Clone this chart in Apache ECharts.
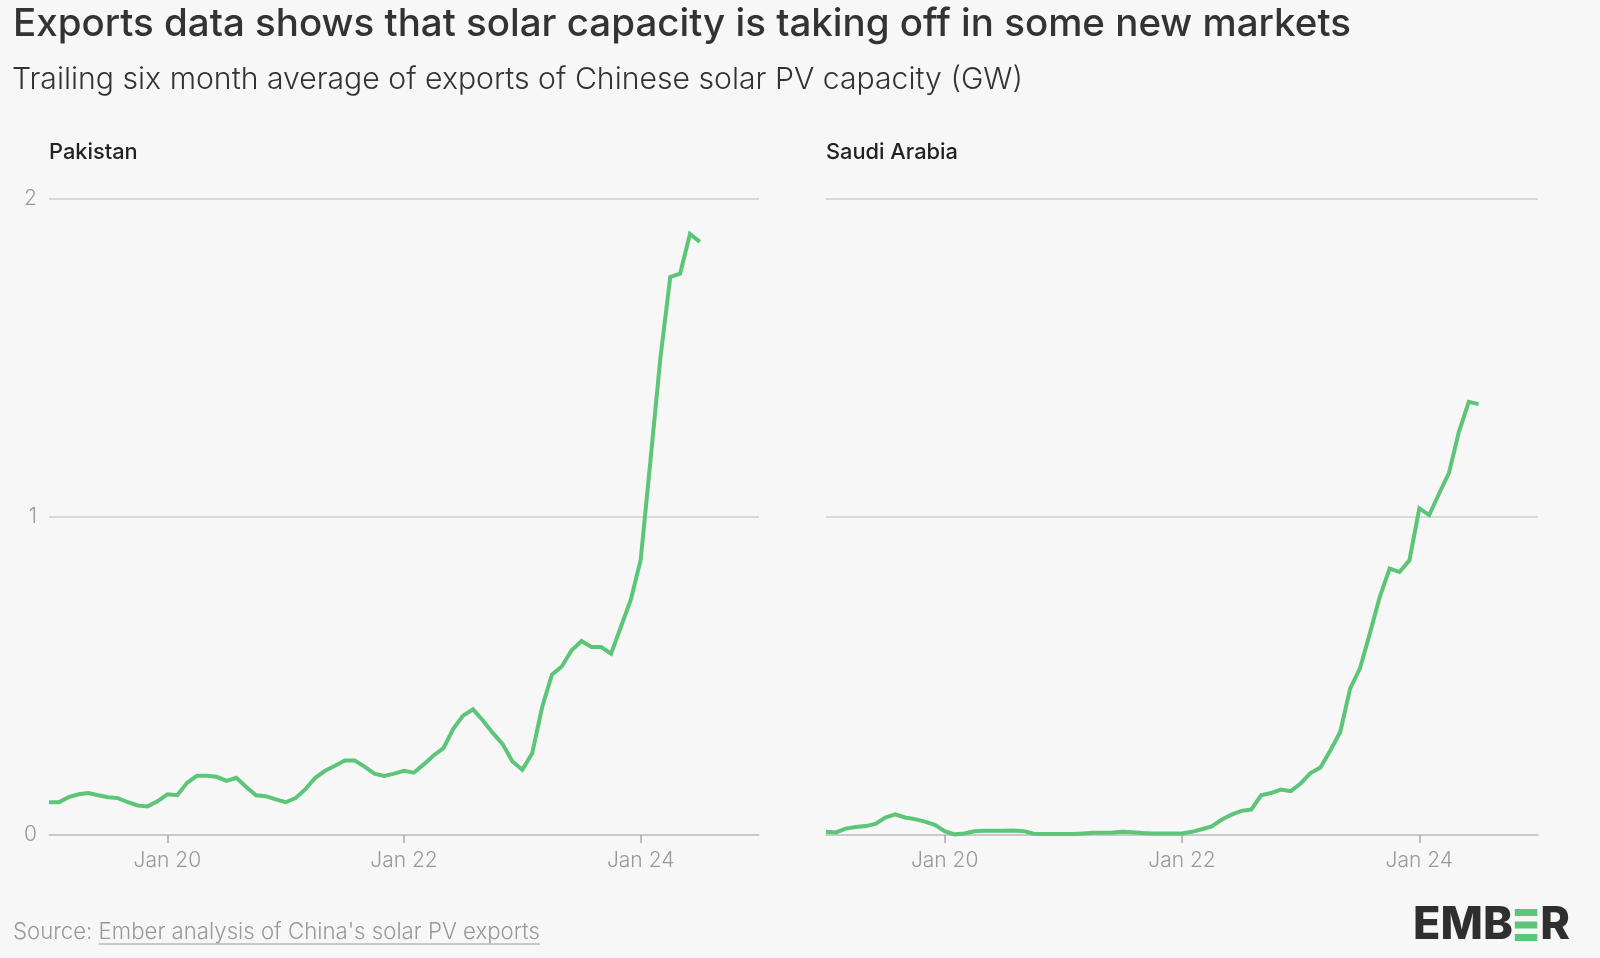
<!DOCTYPE html>
<html><head><meta charset="utf-8">
<script src="https://cdn.jsdelivr.net/npm/echarts@6/dist/echarts.min.js"></script>
<style>html,body{margin:0;padding:0;background:#f7f7f7}#c{width:1600px;height:958px}</style>
</head><body><div id="c"></div>
<script>
// Month categories Jan 2019 .. Jan 2025
const monthNames = ['Jan','Feb','Mar','Apr','May','Jun','Jul','Aug','Sep','Oct','Nov','Dec'];
const years = [19,20,21,22,23,24];
const months = [];
years.forEach(y => monthNames.forEach(m => months.push(m + ' ' + y)));
months.push('Jan 25');
const tickLabels = ['Jan 20','Jan 22','Jan 24'];
const yTicks = {min: 0, max: 2, step: 1};
const panelNames = ['Pakistan','Saudi Arabia'];

// Trailing six-month average exports (GW), Jan 2019 .. Jul 2024
const pakistan = [
  0.103,0.103,0.119,0.128,0.132,0.125,0.119,0.116,0.103,0.093,0.090,0.106,
  0.128,0.125,0.164,0.186,0.186,0.183,0.170,0.180,0.151,0.125,0.122,0.112,
  0.103,0.116,0.144,0.180,0.202,0.218,0.234,0.234,0.215,0.193,0.186,0.193,
  0.202,0.196,0.222,0.250,0.273,0.334,0.376,0.395,0.360,0.321,0.286,0.231,
  0.205,0.257,0.401,0.504,0.530,0.581,0.610,0.591,0.591,0.570,0.655,0.740,
  0.865,1.180,1.500,1.755,1.765,1.890,1.865
];
const saudi = [
  0.010,0.008,0.020,0.025,0.028,0.035,0.055,0.065,0.055,0.050,0.042,0.032,
  0.012,0.002,0.005,0.012,0.013,0.013,0.013,0.014,0.012,0.004,0.003,0.003,
  0.003,0.003,0.005,0.007,0.007,0.008,0.010,0.009,0.006,0.005,0.005,0.005,
  0.005,0.010,0.018,0.027,0.048,0.064,0.076,0.080,0.125,0.132,0.143,0.138,
  0.162,0.195,0.212,0.266,0.324,0.460,0.524,0.634,0.749,0.838,0.827,0.864,
  1.027,1.006,1.074,1.139,1.268,1.362,1.355
];

const FONT = 'Inter';
const GREEN = '#5cc577';
const chart = echarts.init(document.getElementById('c'), null, {renderer:'canvas'});

const ctx = document.createElement('canvas').getContext('2d');
function tw(text, font){ ctx.font = font; return ctx.measureText(text).width; }

const gridTop = 199, gridH = 636;
const grids = [
  {left: 49, top: gridTop, width: 710, height: gridH},
  {left: 826, top: gridTop, width: 712, height: gridH}
];
const isTick = (i, v) => tickLabels.indexOf(v) >= 0;

const xAxes = grids.map((g, k) => ({
  type: 'category', gridIndex: k, data: months, boundaryGap: false,
  axisLine: {show: true, lineStyle: {color: '#c4c4c4', width: 1.5}},
  axisTick: {show: true, interval: isTick, length: 8, lineStyle: {color: '#aaaaaa', width: 1.5}},
  axisLabel: {interval: isTick, color: '#999999', fontSize: 21, fontWeight: 300, fontFamily: FONT, margin: 15},
  splitLine: {show: false}
}));
const yAxes = grids.map((g, k) => ({
  type: 'value', gridIndex: k, min: yTicks.min, max: yTicks.max, interval: yTicks.step,
  axisLine: {show: false}, axisTick: {show: false},
  axisLabel: {show: k === 0, color: '#999999', fontSize: 21, fontWeight: 300, fontFamily: FONT, margin: 12},
  splitLine: {lineStyle: {color: '#cfcfcf', width: 1.5}}
}));
const series = [pakistan, saudi].map((d, k) => ({
  type: 'line', xAxisIndex: k, yAxisIndex: k, data: d, showSymbol: false,
  lineStyle: {color: GREEN, width: 4, join: 'miter'}, animation: false
}));

// texts
const srcFont = '300 22.2px ' + FONT;
const srcPrefix = 'Source: ';
const srcLink = "Ember analysis of China's solar PV exports";
const prefW = tw(srcPrefix, srcFont);
const linkW = tw(srcLink, srcFont);

const logoFont = '800 45px ' + FONT;
const wEMB = tw('EMB', logoFont);
const wE = tw('E', logoFont);
const logoX = 1413, logoMid = 925;
const barW = wE * 0.82, barH = 7;

const graphic = [
  {type:'text', left: 13, top: 5, style:{text:'Exports data shows that solar capacity is taking off in some new markets', font:'500 38.5px ' + FONT, fill:'#333333'}},
  {type:'text', left: 12, top: 65, style:{text:'Trailing six month average of exports of Chinese solar PV capacity (GW)', font:'300 30.2px ' + FONT, fill:'#333333'}},
  {type:'text', left: grids[0].left, top: 141, style:{text: panelNames[0], font:'500 21.8px ' + FONT, fill:'#222222'}},
  {type:'text', left: grids[1].left, top: 141, style:{text: panelNames[1], font:'500 21.8px ' + FONT, fill:'#222222'}},
  {type:'text', x: 13, y: 932, style:{text: srcPrefix, font: srcFont, fill:'#999999', verticalAlign:'middle'}},
  {type:'text', x: 13 + prefW, y: 932, style:{text: srcLink, font: srcFont, fill:'#999999', verticalAlign:'middle'}},
  {type:'line', shape:{x1: 13 + prefW, y1: 944, x2: 13 + prefW + linkW, y2: 944}, style:{stroke:'#999999', lineWidth:1}},
  {type:'text', x: logoX, y: logoMid, style:{text:'EMB', font: logoFont, fill:'#2f2f2f', verticalAlign:'middle'}},
  {type:'rect', shape:{x: logoX + wEMB + 2, y: logoMid - 16, width: barW, height: barH}, style:{fill: GREEN}},
  {type:'rect', shape:{x: logoX + wEMB + 2, y: logoMid - 3.5, width: barW, height: barH}, style:{fill: GREEN}},
  {type:'rect', shape:{x: logoX + wEMB + 2, y: logoMid + 9, width: barW, height: barH}, style:{fill: GREEN}},
  {type:'text', x: logoX + wEMB + 2 + barW + 3, y: logoMid, style:{text:'R', font: logoFont, fill:'#2f2f2f', verticalAlign:'middle'}}
];

chart.setOption({
  backgroundColor: '#f7f7f7',
  animation: false,
  grid: grids,
  xAxis: xAxes,
  yAxis: yAxes,
  series: series,
  graphic: graphic
});
</script></body></html>
